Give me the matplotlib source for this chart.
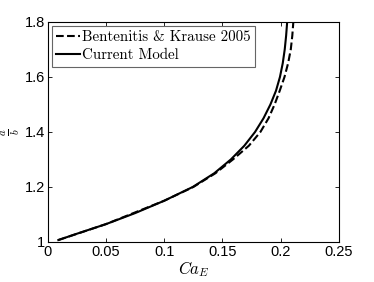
import matplotlib
matplotlib.use("Agg")
import matplotlib.pyplot as plt

plt.rcParams['mathtext.fontset'] = 'cm'

# Current model: Ca_E vs a/b
ca_model = [0.009, 0.025, 0.05, 0.075, 0.1, 0.1245, 0.1430, 0.1572, 0.1688, 0.1780,
            0.1853, 0.1912, 0.1960, 0.1994, 0.2018, 0.2035, 0.2047, 0.2056]
ab_model = [1.007, 1.03, 1.065, 1.105, 1.15, 1.20, 1.25, 1.30, 1.35, 1.40,
            1.45, 1.50, 1.55, 1.60, 1.65, 1.70, 1.75, 1.80]

# Bentenitis & Krause 2005
ca_bk = [0.009, 0.05, 0.1, 0.125, 0.1440, 0.1590, 0.1727, 0.1826, 0.1896, 0.1948,
         0.1992, 0.2033, 0.2064, 0.2087, 0.2100, 0.2109]
ab_bk = [1.007, 1.065, 1.15, 1.20, 1.25, 1.30, 1.35, 1.40, 1.45, 1.50,
         1.55, 1.60, 1.65, 1.70, 1.75, 1.80]

xticks = [0, 0.05, 0.1, 0.15, 0.2, 0.25]
xticklabels = ['0', '0.05', '0.1', '0.15', '0.2', '0.25']
yticks = [1, 1.2, 1.4, 1.6, 1.8]
yticklabels = ['1', '1.2', '1.4', '1.6', '1.8']

fig = plt.figure(figsize=(3.74, 2.82), dpi=100)
ax = fig.add_axes([0.128, 0.142, 0.778, 0.78])

ax.plot(ca_bk, ab_bk, 'k--', lw=1.5, label='Bentenitis & Krause 2005')
ax.plot(ca_model, ab_model, 'k-', lw=1.5, label='Current Model')

ax.set_xlim(0, 0.25)
ax.set_ylim(1, 1.8)
ax.set_xticks(xticks)
ax.set_xticklabels(xticklabels, family='Liberation Sans', fontsize=10.5)
ax.set_yticks(yticks)
ax.set_yticklabels(yticklabels, family='Liberation Sans', fontsize=10.5)
ax.tick_params(direction='in', top=True, right=True, length=3, width=0.6, pad=2)
for s in ax.spines.values():
    s.set_linewidth(0.8)

ax.set_xlabel(r'$Ca_E$', fontsize=12, labelpad=0)
ax.set_ylabel(r'$\frac{a}{b}$', fontsize=11, labelpad=2)

leg = ax.legend(loc='upper left', prop={'family': 'cmr10', 'size': 10.8},
                handlelength=1.6, handletextpad=0.1,
                borderpad=0.3, labelspacing=0.3, fancybox=False, framealpha=1,
                edgecolor='0.4', borderaxespad=0.25)
leg.get_frame().set_linewidth(0.8)

fig.savefig('out.png', dpi=100)
